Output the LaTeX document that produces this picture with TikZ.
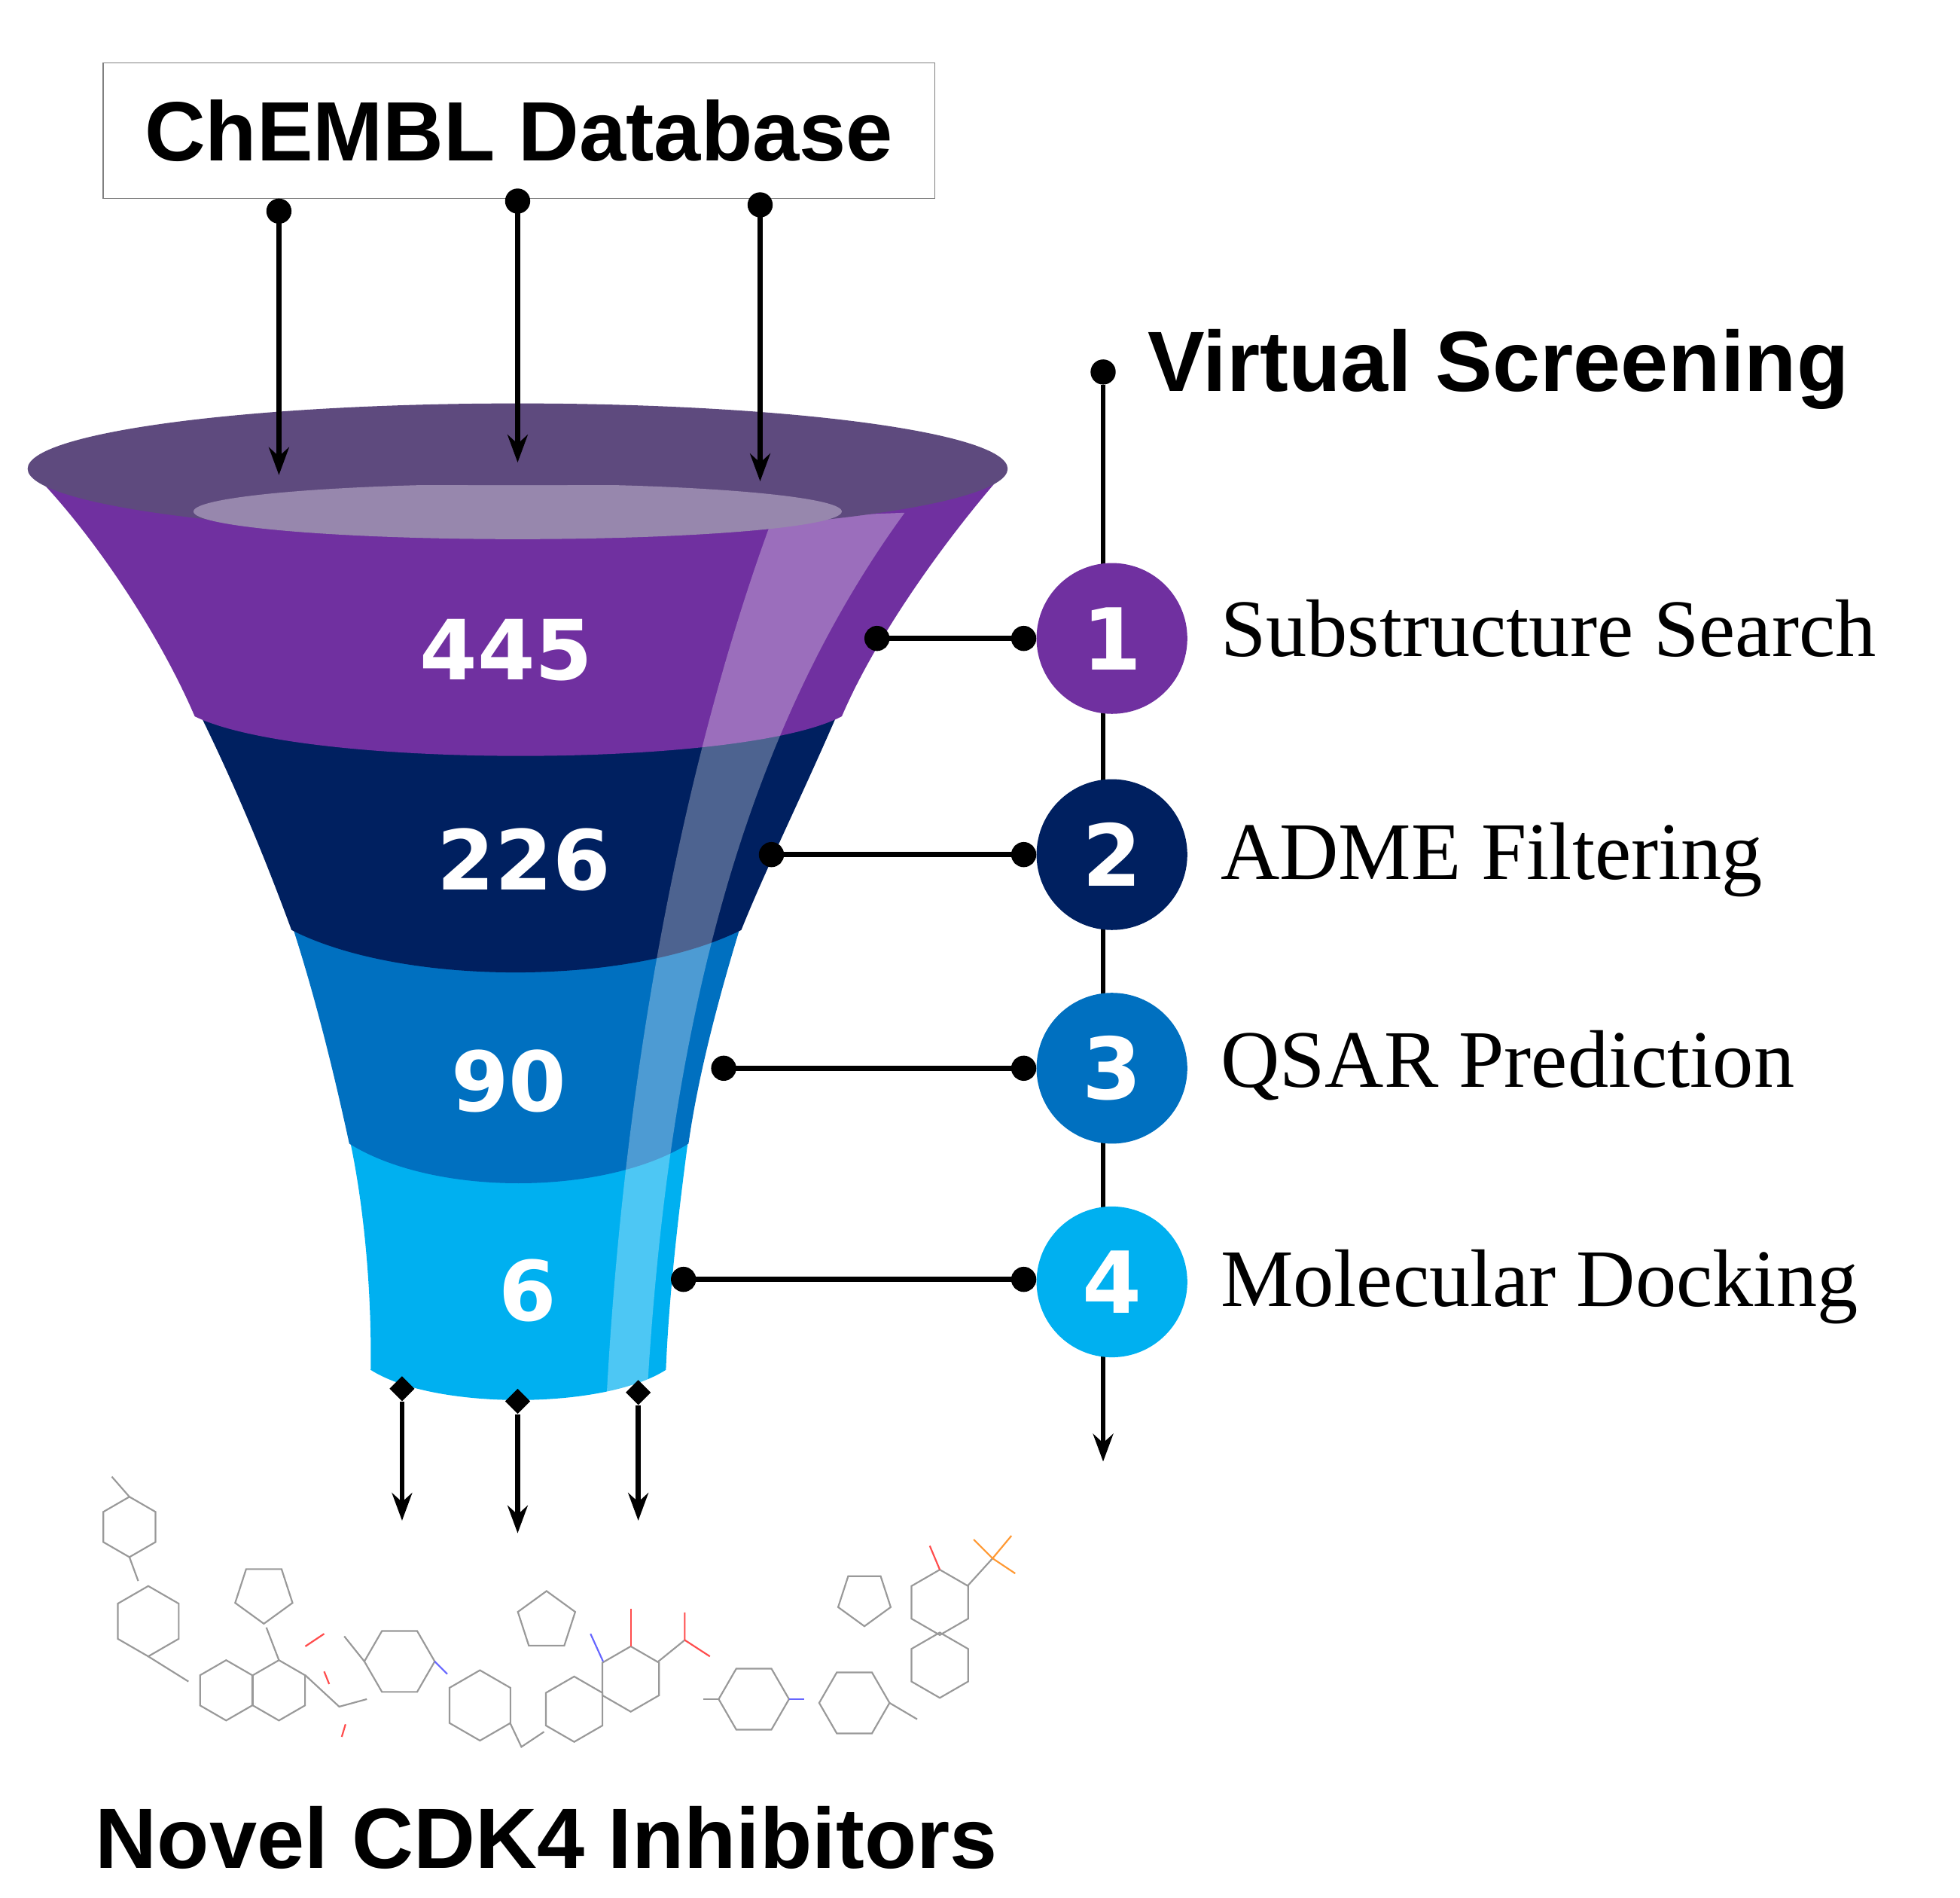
\documentclass[tikz,border=0pt]{standalone}
\usepackage{fontspec}
\setmainfont{Liberation Serif}
\newfontfamily\lsans{Liberation Sans}
\newfontfamily\dsans{DejaVu Sans}
\usetikzlibrary{arrows.meta,shapes.geometric}
\definecolor{cpur}{HTML}{7030A0}
\definecolor{cnavy}{HTML}{002060}
\definecolor{cblue}{HTML}{0070C0}
\definecolor{clblue}{HTML}{00B0F0}
\definecolor{ctop}{HTML}{5E4A7E}
\definecolor{ctopin}{HTML}{9787AD}
\newcommand\myhex[4]{\draw[mol] (#1,#2) +({#3}:#4) -- +({#3+60}:#4) -- +({#3+120}:#4) -- +({#3+180}:#4) -- +({#3+240}:#4) -- +({#3+300}:#4) -- cycle;}
\newcommand\mypent[4]{\draw[mol] (#1,#2) +({#3}:#4) -- +({#3+72}:#4) -- +({#3+144}:#4) -- +({#3+216}:#4) -- +({#3+288}:#4) -- cycle;}
\tikzset{
 mol/.style={gray!80,line width=1.3pt},
 arr/.style={line width=4pt,-{Stealth[length=22pt,width=16pt]}},
 conn/.style={line width=4pt,{Circle[length=20pt]}-{Circle[length=20pt]}},
 stepc/.style={circle,minimum size=120pt,inner sep=0,text=white,font=\dsans\bfseries\fontsize{68}{68}\selectfont},
 lab/.style={anchor=west,font=\fontsize{65}{65}\selectfont},
 num/.style={text=white,font=\dsans\bfseries\fontsize{66}{66}\selectfont},
 dot/.style={circle,fill=black,inner sep=0,minimum size=20pt},
 dia/.style={diamond,fill=black,inner sep=0,minimum size=20pt},
}
\begin{document}
\begin{tikzpicture}[x=1pt,y=-1pt]
\useasboundingbox (0,0) rectangle (1560,1510);
% funnel layers bottom to top
\fill[clblue] (278,905) -- (548,905) .. controls (538,980) and (532,1040) .. (530,1090) .. controls (480,1122) and (345,1122) .. (295,1090) .. controls (296,1030) and (290,960) .. (278,905) -- cycle;
\fill[cblue] (232,735) -- (590,735) .. controls (570,800) and (555,860) .. (548,910) .. controls (480,952) and (345,952) .. (278,910) .. controls (265,850) and (250,790) .. (232,735) -- cycle;
\fill[cnavy] (155,560) -- (670,560) .. controls (640,630) and (610,690) .. (590,740) .. controls (500,785) and (320,785) .. (232,740) .. controls (210,680) and (185,620) .. (155,560) -- cycle;
\fill[cpur] (25,375) -- (800,375) .. controls (760,420) and (700,500) .. (670,570) .. controls (590,612) and (240,612) .. (155,570) .. controls (125,500) and (70,420) .. (25,375) -- cycle;
% highlight
\fill[white,opacity=0.3] (615,412) .. controls (560,560) and (500,800) .. (483,1108) -- (515,1110) .. controls (530,850) and (580,600) .. (720,408) -- cycle;
% top ellipse
\fill[ctop] (412,373) ellipse [x radius=390,y radius=52];
\fill[ctopin] (412,407) ellipse [x radius=258,y radius=22];
\fill[ctop] (412,380) ellipse [x radius=300,y radius=6];
% numbers
\node[num] (n1) at (403,517) {445};
\node[num] (n2) at (417,684) {226};
\node[num] (n3) at (405,860) {90};
\node[num] (n4) at (420,1027) {6};
% ChEMBL box
\node[draw=gray,line width=1pt,minimum width=662pt,minimum height=108pt,inner sep=0,font=\lsans\bfseries\fontsize{67}{67}\selectfont] (db) at (413,104) {ChEMBL Database};
\coordinate (a1) at (222,168); \coordinate (b1) at (222,378);
\coordinate (a2) at (412,160); \coordinate (b2) at (412,368);
\coordinate (a3) at (605,163); \coordinate (b3) at (605,383);
\foreach \i in {1,2,3}{\node[dot] at (a\i) {}; \draw[arr] (a\i) -- (b\i);}
% timeline
\node[dot] (t0) at (878,296) {};
\coordinate (tend) at (878,1163);
\draw[arr] (t0) -- (tend);
\node[font=\lsans\bfseries\fontsize{68}{68}\selectfont,anchor=west] (vs) at (910,294) {Virtual Screening};
\node[stepc,fill=cpur] (s1) at (885,508) {1};
\node[stepc,fill=cnavy] (s2) at (885,680) {2};
\node[stepc,fill=cblue] (s3) at (885,850) {3};
\node[stepc,fill=clblue] (s4) at (885,1020) {4};
\node[lab] (l1) at (968,500) {Substructure Search};
\node[lab] (l2) at (968,684) {ADME Filtering};
\node[lab] (l3) at (968,848) {QSAR Prediction};
\node[lab] (l4) at (968,1024) {Molecular Docking};
\coordinate (f1) at (688,508); \coordinate (f2) at (604,680);
\coordinate (f3) at (566,850); \coordinate (f4) at (534,1018);
\foreach \i in {1,...,4}{\draw[conn] (f\i) -- (s\i.west |- f\i);}
% outputs
\node[dia] (d1) at (320,1105) {}; \coordinate (e1) at (320,1210);
\node[dia] (d2) at (412,1115) {}; \coordinate (e2) at (412,1220);
\node[dia] (d3) at (508,1108) {}; \coordinate (e3) at (508,1210);
\foreach \i in {1,2,3}{\draw[arr] (d\i) -- (e\i);}
% molecule 1
\myhex{103}{1215}{90}{24}
\draw[mol] (89,1175) -- (103,1191);
\draw[mol] (103,1239) -- (110,1258);
\myhex{118}{1290}{90}{28}
\draw[mol] (118,1318) -- (150,1338);
\myhex{180}{1345}{90}{24}
\myhex{222}{1345}{90}{24}
\draw[mol] (222,1321) -- (212,1295);
\mypent{210}{1268}{90}{24}
\draw[mol] (243,1333) -- (270,1358) -- (292,1352);
\draw[mol,red!70] (262,1340) -- (258,1330) (275,1372) -- (272,1382) (243,1310) -- (258,1300);
% molecule 2
\myhex{318}{1322}{0}{28}
\draw[mol] (274,1302) -- (290,1322);
\draw[mol,blue!60] (346,1322) -- (356,1332);
\myhex{382}{1357}{30}{28}
\draw[mol] (406,1371) -- (415,1390) -- (433,1378);
\myhex{457}{1360}{90}{26}
\myhex{502}{1336}{90}{26}
\draw[mol,blue!60] (480,1322) -- (470,1300);
\mypent{435}{1290}{-18}{24}
\draw[mol,red!70] (502,1310) -- (502,1280);
\draw[mol] (524,1322) -- (545,1305);
\draw[mol,red!70] (545,1305) -- (545,1283) (545,1305) -- (565,1318);
% molecule 3
\myhex{600}{1352}{0}{28}
\draw[mol] (560,1352) -- (572,1352);
\draw[mol,blue!60] (628,1352) -- (640,1352);
\myhex{680}{1355}{0}{28}
\draw[mol] (708,1355) -- (730,1368);
\myhex{748}{1325}{90}{26}
\myhex{748}{1275}{90}{26}
\mypent{688}{1272}{18}{22}
\draw[mol,red!70] (748,1249) -- (740,1230);
\draw[mol] (770,1262) -- (790,1240);
\draw[mol,orange!80] (790,1240) -- (805,1222) (790,1240) -- (808,1252) (790,1240) -- (775,1225);
\node[font=\lsans\bfseries\fontsize{68}{68}\selectfont] (out) at (435,1462) {Novel CDK4 Inhibitors};
\end{tikzpicture}
\end{document}
